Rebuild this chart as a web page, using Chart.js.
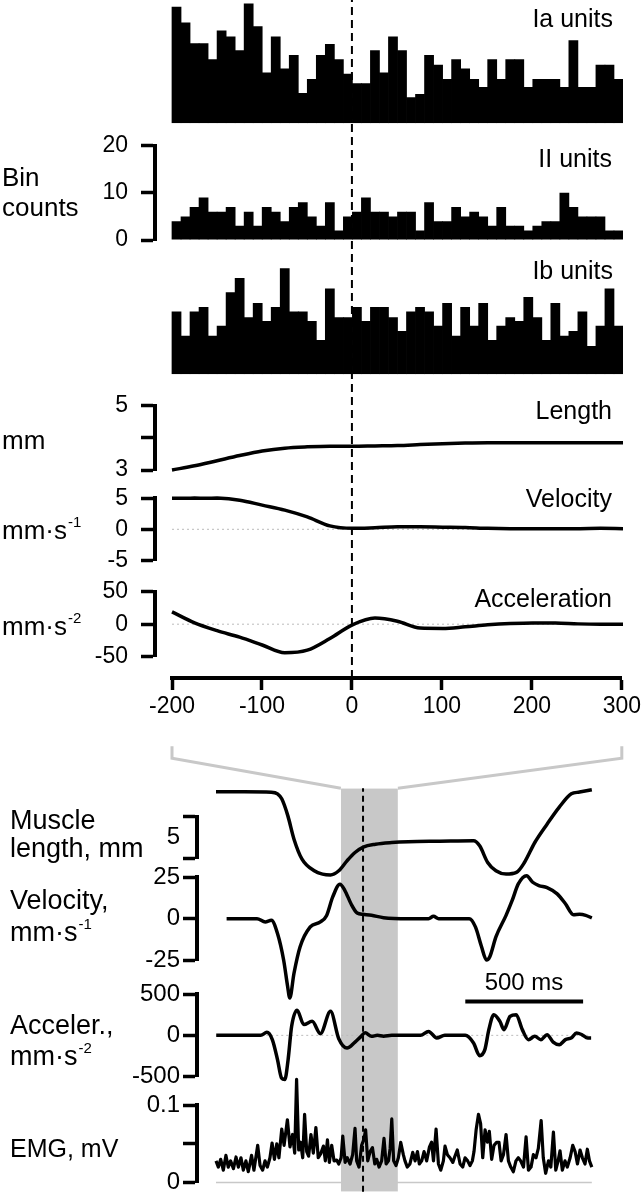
<!DOCTYPE html>
<html>
<head>
<meta charset="utf-8">
<script src="https://cdn.jsdelivr.net/npm/chart.js@4.4.1/dist/chart.umd.min.js"></script>
<style>
  body { margin: 0; background: #fff; }
  #fig { position: relative; width: 644px; height: 1200px; overflow: hidden;
         font-family: 'Liberation Sans', Arial, sans-serif; color: #000; }
  #fig canvas { position: absolute; left: 0; }
  .lbl { position: absolute; white-space: nowrap; line-height: 1; transform: translateY(-50%); z-index: 5; }
  .r { font-size: 25px; }
  .l { font-size: 26px; left: 2px; }
  .lb { font-size: 27px; left: 10px; }
  .sup { font-size: 15px; position: relative; top: -12px; margin-left: 1px; }
</style>
</head>
<body>
<div id="fig">
  <div class="lbl r" style="right:31px;top:18px">Ia units</div>
  <div class="lbl r" style="right:32px;top:158px">II units</div>
  <div class="lbl r" style="right:31px;top:270px">Ib units</div>
  <div class="lbl r" style="right:32px;top:410px">Length</div>
  <div class="lbl r" style="right:32px;top:498px">Velocity</div>
  <div class="lbl r" style="right:32px;top:598px">Acceleration</div>

  <div class="lbl l" style="top:177px">Bin</div>
  <div class="lbl l" style="top:207px">counts</div>
  <div class="lbl l" style="top:440px">mm</div>
  <div class="lbl l" style="top:530px">mm·s<span class="sup">-1</span></div>
  <div class="lbl l" style="top:626px">mm·s<span class="sup">-2</span></div>

  <div class="lbl lb" style="top:820px">Muscle</div>
  <div class="lbl lb" style="top:848px">length, mm</div>
  <div class="lbl lb" style="top:900px">Velocity,</div>
  <div class="lbl lb" style="top:932px">mm·s<span class="sup">-1</span></div>
  <div class="lbl lb" style="top:1025px">Acceler.,</div>
  <div class="lbl lb" style="top:1056px">mm·s<span class="sup">-2</span></div>
  <div class="lbl lb" style="top:1148px;font-size:25px">EMG, mV</div>
  <div class="lbl" style="left:524px;top:982px;font-size:24px;transform:translate(-50%,-50%)">500 ms</div>
</div>
<script>
// ---- histogram data (10 ms bins, -200..300 ms) ----
const BIN_MS = 10;
const binStarts = Array.from({ length: 50 }, (_, i) => -200 + i * BIN_MS);
const iaCounts = [24.7, 21.4, 17.0, 17.0, 13.6, 19.7, 18.4, 15.5, 25.4, 20.6,
                  10.8, 18.4, 11.6, 14.5, 6.4, 9.4, 14.5, 16.8, 13.6, 10.5,
                  8.5, 8.5, 15.5, 10.8, 18.4, 15.5, 5.5, 6.2, 14.5, 12.4,
                  9.4, 13.6, 11.6, 9.4, 7.7, 13.6, 9.4, 13.6, 13.6, 7.7,
                  9.4, 9.4, 9.4, 7.7, 17.6, 7.7, 7.7, 12.4, 12.4, 9.4];
const iiCounts = [4, 5, 7, 9, 6, 6, 7, 3, 6, 3, 7, 6, 4, 7, 8, 5, 3, 8, 2, 5,
                  6, 9, 6, 6, 5, 6, 6, 2, 8, 4, 4, 7, 5, 6, 5, 3, 7, 3, 3, 2,
                  3, 4, 4, 10, 7, 5, 5, 5, 2, 2];
const ibCounts = [13.3, 8.2, 13.3, 14.3, 8.2, 10.3, 17.4, 20.4, 12.1, 15.1,
                  11.3, 14.3, 22.5, 13.3, 13.3, 11.3, 7.3, 18.2, 12.1, 12.1,
                  14.3, 11.3, 14.3, 14.3, 12.1, 9.2, 13.3, 14.3, 13.3, 10.3,
                  15.1, 8.2, 14.3, 10.3, 15.1, 7.3, 10.3, 12.1, 11.3, 16.4,
                  12.1, 7.3, 15.1, 8.2, 9.2, 13.3, 6.0, 10.3, 18.2, 10.3];

// ---- averaged kinematics around the alignment point ----
const kinTime = [-200, -175, -150, -125, -100, -75, -50, -25, 0, 25, 50, 75, 100,
                 125, 150, 175, 200, 225, 250, 275, 300];
const lengthMm = [3.0, 3.13, 3.29, 3.45, 3.59, 3.68, 3.72, 3.74, 3.74, 3.75, 3.76, 3.79, 3.82,
                  3.84, 3.85, 3.85, 3.85, 3.85, 3.85, 3.85, 3.85];
const velocityMm = [5.0, 5.05, 5.05, 4.7, 3.9, 3.1, 2.0, 0.55, 0.15, 0.25, 0.4, 0.4, 0.35,
                    0.3, 0.15, 0.1, 0.1, 0.1, 0.1, 0.15, 0.1];
const accelMm = [19, 2, -10, -20, -32, -44, -40, -22, -1, 9.5, 4.5, -6, -6.5,
                 -4, -1, 1, 2, 2, 0.5, 0, 0];
const timeTicks = [-200, -100, 0, 100, 200, 300];

// ---- whole movement cycle (ms from trace start) ----
const muscleTime = [0, 120, 235, 261, 279, 305, 331, 365, 417, 452, 486, 521, 556, 590, 625, 677,
                    746, 816, 950, 1093, 1119, 1153, 1188, 1231, 1275, 1309, 1353, 1405, 1457, 1508,
                    1543, 1595];
const muscleLength = [10.0, 10.0, 9.95, 9.75, 9.15, 7.1, 4.3, 1.9, 0.5, 0.1, 0.0, 0.5, 1.7, 2.7, 3.35, 3.7,
                      3.9, 4.0, 4.05, 4.1, 3.5, 1.5, 0.5, 0.1, 0.3, 1.5, 3.9, 6.1, 8.15, 9.75,
                      9.96, 10.25];
const cycVelTime = [45, 174, 209, 235, 261, 287, 304, 313, 331, 357, 400, 443, 469, 495, 526, 547,
                    573, 599, 625, 660, 711, 816, 902, 923, 945, 1075, 1101, 1127, 1148, 1162,
                    1188, 1231, 1257, 1283, 1318, 1344, 1370, 1405, 1448, 1483, 1517, 1543, 1569, 1595];
const cycVel = [0, 0, -2, -1, -9, -25, -41, -48, -33, -17, -5, -2, 1.8, 13, 20.8, 17,
                9, 3.4, 2.6, 2, 0.6, 0, 0, 1.4, 0, 0, -5, -17, -25, -23,
                -11, 2, 11, 21, 26, 22, 20, 18.8, 15, 9, 2.4, 2.6, 2, 0.4];
const cycAccTime = [1, 190, 216, 239, 261, 278, 292, 306, 321, 344, 373, 408, 443, 486, 521, 556,
                    590, 616, 633, 660, 685, 711, 746, 816, 868, 902, 937, 971, 1058, 1093,
                    1119, 1141, 1158, 1179, 1205, 1222, 1248, 1274, 1300, 1326, 1353, 1379, 1405, 1431,
                    1457, 1483, 1509, 1530, 1552, 1578, 1592];
const cycAcc = [0, 0, 36, -52, -294, -516, -535, -294, 109, 303, 130, 170, 20, 290, -40, -153,
                -81, -12, 30, -12, 0, -10, 0, 0, 0, 48, -32, 0, 0, -93,
                -246, -173, 69, 250, 169, 69, 230, 250, 69, -52, -12, -52, 8, -81,
                -113, -52, -30, 28, 10, -32, -32];
const emgTime = [0, 10, 20, 31, 42, 52, 62, 74, 85, 95, 106, 116, 127, 137, 151, 161, 177, 187, 198, 208,
                 218, 229, 238, 248, 258, 267, 279, 289, 303, 314, 325, 334, 342, 351, 359, 368, 376, 385, 393, 403,
                 413, 424, 434, 444, 456, 464, 473, 481, 491, 501, 512, 521, 531, 538, 548, 557, 569, 580, 590, 597,
                 607, 618, 628, 635, 644, 654, 664, 674, 682, 692, 703, 713, 722, 732, 739, 746, 754, 764, 774, 784,
                 795, 802, 812, 823, 835, 845, 855, 863, 873, 883, 894, 906, 915, 923, 934, 944, 954, 965, 972, 982,
                 993, 1005, 1014, 1024, 1036, 1047, 1057, 1068, 1078, 1088, 1095, 1104, 1114, 1123, 1132, 1142, 1152,
                 1160, 1170, 1180, 1191, 1201, 1210, 1220, 1231, 1241, 1251, 1262, 1273, 1283, 1293, 1305, 1316, 1326,
                 1337, 1347, 1358, 1368, 1380, 1389, 1399, 1411, 1421, 1432, 1442, 1452, 1460, 1470, 1481, 1491, 1503,
                 1514, 1524, 1534, 1545, 1555, 1566, 1576, 1585, 1595];
const emgMv = [0.028, 0.020, 0.030, 0.016, 0.035, 0.020, 0.028, 0.018, 0.033, 0.020,
               0.032, 0.016, 0.028, 0.014, 0.035, 0.016, 0.048, 0.022, 0.016, 0.028,
               0.020, 0.032, 0.051, 0.030, 0.050, 0.032, 0.069, 0.048, 0.081, 0.046,
               0.062, 0.038, 0.133, 0.042, 0.052, 0.032, 0.088, 0.040, 0.034, 0.062,
               0.038, 0.071, 0.032, 0.037, 0.047, 0.028, 0.055, 0.026, 0.048, 0.028,
               0.029, 0.024, 0.032, 0.060, 0.026, 0.032, 0.024, 0.036, 0.070, 0.028,
               0.020, 0.048, 0.056, 0.068, 0.028, 0.040, 0.045, 0.024, 0.030, 0.020,
               0.028, 0.057, 0.024, 0.028, 0.044, 0.082, 0.028, 0.022, 0.032, 0.052,
               0.036, 0.028, 0.020, 0.024, 0.039, 0.028, 0.040, 0.024, 0.028, 0.040, 0.028,
               0.046, 0.052, 0.028, 0.069, 0.024, 0.016, 0.028, 0.047, 0.036, 0.032,
               0.026, 0.034, 0.042, 0.024, 0.020, 0.032, 0.028, 0.022, 0.028, 0.040,
               0.068, 0.088, 0.076, 0.032, 0.068, 0.052, 0.066, 0.030, 0.048, 0.052,
               0.052, 0.028, 0.036, 0.062, 0.028, 0.020, 0.014, 0.028, 0.032, 0.028,
               0.020, 0.059, 0.016, 0.020, 0.036, 0.032, 0.044, 0.080, 0.032, 0.012,
               0.028, 0.020, 0.065, 0.016, 0.028, 0.041, 0.016, 0.028, 0.020, 0.032,
               0.048, 0.040, 0.024, 0.042, 0.032, 0.024, 0.043, 0.028, 0.020];
const bandMs = [530, 772];      // shaded window
const alignMs = 624;            // dashed alignment line
const scaleBarMs = [1058, 1558]; // 500 ms bar
const scaleBarLevel = 410;

// ---- layout (page pixels) ----
const FONT = "'Liberation Sans', Arial, sans-serif";
const AXIS_W = 80;
const TOP_PX = [172, 623], TOP_MS = [-200, 300];
const BOT_PX = [216, 593], BOT_MS = [0, 1600];
const TOP_L = 155, BOT_L = 197;
const COUNT_PX = 4.715;

function extendRange(left, px, ms) {
  const k = (ms[1] - ms[0]) / (px[1] - px[0]);
  return { min: ms[0] - (px[0] - left) * k, max: ms[1] };
}
const TOP_X = extendRange(TOP_L, TOP_PX, TOP_MS);
const BOT_X = extendRange(BOT_L, BOT_PX, BOT_MS);

const fig = document.getElementById('fig');

function bracket(values, labels, range, look) {
  return {
    display: true, position: 'left', min: range[0], max: range[1],
    afterBuildTicks: s => { s.ticks = values.map(v => ({ value: v })); },
    afterFit: s => { s.width = AXIS_W; },
    ticks: { autoSkip: false, padding: look.pad, color: '#000',
             font: { family: FONT, size: look.size }, callback: (v, i) => labels[i] },
    grid: { drawOnChartArea: false, tickLength: 14, tickWidth: 3.5, tickColor: look.tickColor || '#000' },
    border: { display: true, color: '#000', width: 4 }
  };
}

// area = [left, right, top, bottom] of the chart area in page pixels
function panel(o) {
  const xH = o.xAxisH || 0;
  const cTop = Math.floor(o.area[2] - o.pad[0]);
  const padTop = o.area[2] - cTop;
  const h = Math.ceil(o.area[3] + xH + o.pad[1] - cTop);
  const padBottom = h - (o.area[3] + xH - cTop);
  const cv = document.createElement('canvas');
  cv.width = 644; cv.height = h;
  cv.style.top = cTop + 'px';
  fig.appendChild(cv);
  return new Chart(cv, {
    type: o.type || 'line',
    data: { datasets: o.datasets },
    options: {
      responsive: false, animation: false, events: [],
      layout: { padding: { left: o.area[0] - (o.yAxis ? AXIS_W : 0), right: 644 - o.area[1],
                           top: padTop, bottom: padBottom } },
      plugins: { legend: { display: false }, tooltip: { enabled: false } },
      scales: {
        x: o.xAxis || { type: 'linear', display: false, offset: false, min: o.xRange.min, max: o.xRange.max },
        y: o.yAxis || { display: false, min: o.yRange[0], max: o.yRange[1] }
      }
    },
    plugins: o.plugins || []
  });
}

const trace = (xs, ys, extra) => Object.assign({
  data: xs.map((x, i) => ({ x, y: ys[i] })),
  borderColor: '#000', borderWidth: 3.5, pointRadius: 0, tension: 0, clip: false,
  borderJoinStyle: 'round', fill: false
}, extra);
const smooth = { cubicInterpolationMode: 'monotone' };
const zeroLine = (range) => trace(range, [0, 0], { borderColor: '#bbb', borderWidth: 1, borderDash: [2, 3] });

const hist = counts => ({
  data: binStarts.map((s, i) => ({ x: s + BIN_MS / 2, y: counts[i] })),
  backgroundColor: '#000', borderWidth: 0, barPercentage: 1.08, categoryPercentage: 1
});

// ---- top: histograms ----
panel({ type: 'bar', area: [TOP_L, 623, 123.3 - 26 * COUNT_PX, 123.3], pad: [0, 2],
        xRange: TOP_X, yRange: [0, 26], datasets: [hist(iaCounts)] });
panel({ type: 'bar', area: [TOP_L, 623, 240 - 20 * COUNT_PX, 240], pad: [32, 32],
        xRange: TOP_X, datasets: [hist(iiCounts)],
        yAxis: bracket([0, 10, 20], ['0', '10', '20'], [0, 20], { pad: 13, size: 23 }) });
panel({ type: 'bar', area: [TOP_L, 623, 374.3 - 26 * COUNT_PX, 374.3], pad: [2, 2],
        xRange: TOP_X, yRange: [0, 26], datasets: [hist(ibCounts)] });

// ---- top: kinematics ----
panel({ area: [TOP_L, 623, 405.7, 470], pad: [32, 32], xRange: TOP_X,
        datasets: [trace(kinTime, lengthMm, smooth)],
        yAxis: bracket([3, 4, 5], ['3', '', '5'], [3, 5], { pad: 13, size: 23 }) });
panel({ area: [TOP_L, 623, 498.3, 560.3], pad: [32, 32], xRange: TOP_X,
        datasets: [trace(kinTime, velocityMm, smooth), zeroLine(TOP_MS)],
        yAxis: bracket([-5, 0, 5], ['-5', '0', '5'], [-5, 5], { pad: 13, size: 23 }) });
panel({ area: [TOP_L, 623, 591.7, 656.7], pad: [32, 32], xRange: TOP_X,
        datasets: [trace(kinTime, accelMm, smooth), zeroLine(TOP_MS)],
        yAxis: bracket([-50, 0, 50], ['-50', '0', '50'], [-50, 50], { pad: 13, size: 23 }) });

// ---- top: time axis and alignment line ----
const topAxis = panel({
  area: [TOP_PX[0], TOP_PX[1], 0, 678], pad: [0, 0], xAxisH: 42, yRange: [0, 1],
  xAxis: {
    type: 'linear', min: TOP_MS[0], max: TOP_MS[1],
    afterBuildTicks: s => { s.ticks = timeTicks.map(v => ({ value: v })); },
    afterFit: s => { s.height = 42; },
    ticks: { autoSkip: false, maxRotation: 0, padding: 3, color: '#000', font: { family: FONT, size: 23 } },
    grid: { drawOnChartArea: false, tickLength: 12, tickWidth: 3.5, tickColor: '#000' },
    border: { display: true, color: '#000', width: 4 }
  },
  datasets: [trace([0, 0], [0, 1], { borderWidth: 2, borderDash: [8, 5] })]
});

// ---- bottom: shaded window with connectors to the top axis ----
const connector = {
  id: 'connector',
  afterDraw(chart) {
    const ctx = chart.ctx, yBand = chart.chartArea.top;
    const pairs = [[TOP_MS[0], bandMs[0]], [TOP_MS[1], bandMs[1]]];
    ctx.save();
    ctx.strokeStyle = '#c8c8c8'; ctx.lineWidth = 3;
    pairs.forEach(([a, b]) => {
      const x0 = topAxis.scales.x.getPixelForValue(a), x1 = chart.scales.x.getPixelForValue(b);
      ctx.beginPath();
      ctx.moveTo(x0, yBand - 42); ctx.lineTo(x0, yBand - 30); ctx.lineTo(x1, yBand);
      ctx.stroke();
    });
    ctx.restore();
  }
};
panel({ area: [BOT_L, 593, 788.3, 1191.7], pad: [48, 4], xRange: BOT_X, yRange: [0, 1],
        datasets: [
          trace([alignMs, alignMs], [0, 1], { borderWidth: 2, borderDash: [6, 4] }),
          trace(bandMs, [1, 1], { borderWidth: 0, fill: 'start', backgroundColor: '#c8c8c8' })
        ],
        plugins: [connector] });

// ---- bottom: movement cycle ----
panel({ area: [BOT_L, 593, 816.7, 858.3], pad: [34, 24], xRange: BOT_X,
        datasets: [trace(muscleTime, muscleLength, smooth)],
        yAxis: bracket([2, 4.5, 7], ['', '5', ''], [2, 7],
                       { pad: 3, size: 24, tickColor: c => c.index === 1 ? 'rgba(0,0,0,0)' : '#000' }) });
panel({ area: [BOT_L, 593, 877.3, 960], pad: [22, 44], xRange: BOT_X,
        datasets: [trace(cycVelTime, cycVel, smooth)],
        yAxis: bracket([-25, 0, 25], ['-25', '0', '25'], [-25, 25], { pad: 3, size: 24 }) });
panel({ area: [BOT_L, 593, 994, 1076.7], pad: [22, 22], xRange: BOT_X,
        datasets: [trace(cycAccTime, cycAcc, smooth),
                   trace(scaleBarMs, [scaleBarLevel, scaleBarLevel], { borderWidth: 4, borderCapStyle: 'butt' }),
                   zeroLine([cycAccTime[0], cycAccTime[cycAccTime.length - 1]])],
        yAxis: bracket([-500, 0, 500], ['-500', '0', '500'], [-500, 500], { pad: 3, size: 24 }) });
panel({ area: [BOT_L, 593, 1105, 1188.3], pad: [36, 11], xRange: BOT_X,
        datasets: [trace(emgTime, emgMv, { borderWidth: 3.2 }),
                   trace([emgTime[0], emgTime[emgTime.length - 1]], [0, 0], { borderColor: '#c8c8c8', borderWidth: 1.5 })],
        yAxis: bracket([0, 0.05, 0.1], ['0', '', '0.1'], [0, 0.1], { pad: 3, size: 24 }) });
</script>
</body>
</html>
